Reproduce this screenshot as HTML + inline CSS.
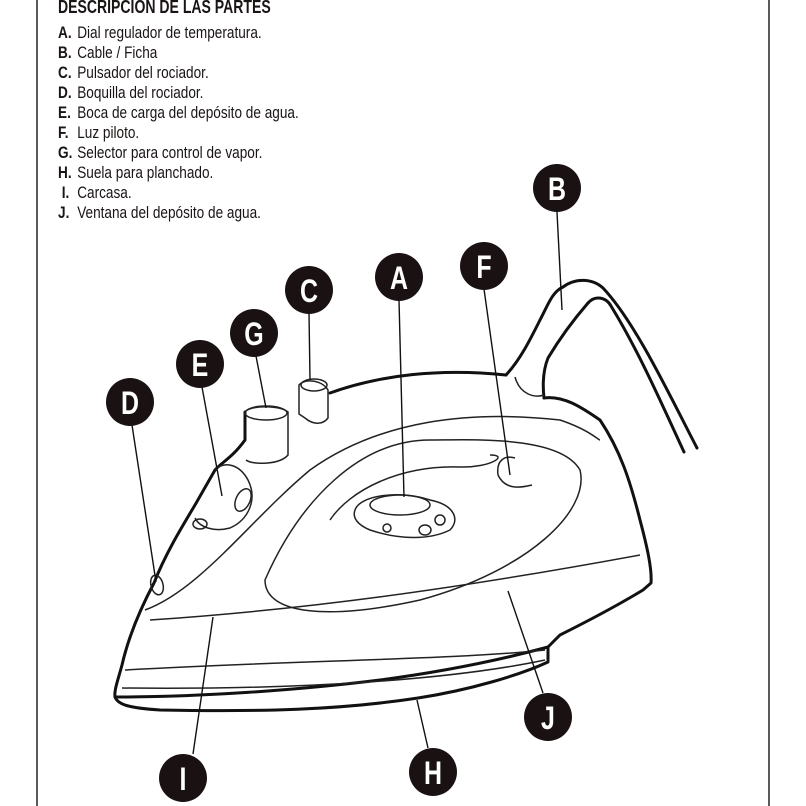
<!DOCTYPE html>
<html><head><meta charset="utf-8"><style>
html,body{margin:0;padding:0;background:#fff;}
body{width:806px;height:806px;position:relative;overflow:hidden;font-family:"Liberation Sans",sans-serif;}
.t{position:absolute;left:58px;top:-3px;font-weight:bold;font-size:18px;color:#1a1414;transform:scaleX(0.78);transform-origin:0 0;white-space:nowrap;}
.l{position:absolute;left:58px;font-size:17px;color:#1a1414;white-space:nowrap;transform:scaleX(0.8);transform-origin:0 0;}
.l b{display:inline-block;width:24px;}
</style></head><body>
<svg width="806" height="806" style="position:absolute;left:0;top:0">
<line x1="37" y1="0" x2="37" y2="806" stroke="#222" stroke-width="1.5"/>
<line x1="769" y1="0" x2="769" y2="806" stroke="#222" stroke-width="1.5"/>
<g fill="none" stroke="#111" stroke-width="3" stroke-linejoin="round" stroke-linecap="round">
<path d="M563,287 C575,278 592,278 603,288 C635,322 668,392 697,448"/>
<path d="M588,303 C595,295 606,297 611,306 C638,350 660,400 684,452"/>
<path d="M506,375 C520,360 530,340 540,320 C548,305 552,292 563,287"/>
<path d="M588,303 C575,318 560,338 548,358 C544,368 542,380 544,398"/>
<path d="M506,375 C440,368 380,375 330,393"/>
<path d="M544,398 C565,395 585,410 600,420 C620,450 630,480 640,520 C648,550 652,570 651,583 L643,590 C610,610 580,625 560,635 L548,647 C500,660 440,672 380,680 C300,690 200,697 115,697 C114,690 118,680 122,665 C130,630 145,600 154,583 C165,555 180,530 195,505 L215,470 C222,462 232,458 245,440 L245,412"/>
<path d="M115,697 C118,705 130,708 160,710 C260,712 340,710 418,698 C470,690 520,675 548,662 L548,647"/>
</g>
<g fill="none" stroke="#222" stroke-width="1.5">
<path d="M245,412 C250,405 280,405 288,412 L288,455 C280,465 252,465 246,460"/>
<ellipse cx="266" cy="413" rx="21" ry="7"/>
<path d="M299,385 C305,378 322,380 328,390 L328,418 C322,426 312,424 305,418 L299,414 Z"/>
<ellipse cx="314" cy="385" rx="13" ry="6"/>
<path d="M215,470 C225,460 240,465 248,480 C258,500 248,520 230,528 C215,532 200,528 195,518"/>
<ellipse cx="243" cy="500" rx="7" ry="12" transform="rotate(25 243 500)"/>
<ellipse cx="200" cy="524" rx="7" ry="5"/>
<ellipse cx="157" cy="585" rx="6" ry="10" transform="rotate(-15 157 585)"/>
<path d="M145,610 C200,590 250,520 310,470 C380,420 470,410 560,420 C590,430 598,440 600,440"/>
<path d="M265,580 C300,500 360,440 430,440 C470,440 560,435 580,470 C590,510 530,570 420,600 C330,620 265,615 265,580 Z"/>
<path d="M150,620 C300,610 450,590 640,555"/>
<path d="M125,670 C300,660 450,660 545,650"/>
<path d="M122,688 C300,690 450,680 545,660"/>
<path d="M330,520 C350,490 400,465 460,467 C490,468 510,455 490,455"/>
<path d="M498,475 C496,460 505,455 515,458"/>
<path d="M498,475 C505,490 520,488 532,485"/>
<path d="M355,510 C360,495 400,490 430,500 C455,505 460,520 450,530 C430,540 400,540 370,530 C358,525 352,518 355,510 Z"/>
<ellipse cx="400" cy="505" rx="30" ry="10"/>
<ellipse cx="425" cy="530" rx="6" ry="5"/><ellipse cx="440" cy="520" rx="5" ry="5"/><ellipse cx="387" cy="528" rx="4" ry="4"/>
<path d="M515,377 C520,395 535,398 544,395"/>
</g>
<g stroke="#111" stroke-width="1.4">
<line x1="557" y1="212" x2="562" y2="310"/>
<line x1="399" y1="300" x2="404" y2="497"/>
<line x1="484" y1="289" x2="510" y2="475"/>
<line x1="309" y1="313" x2="310" y2="380"/>
<line x1="256" y1="356" x2="266" y2="408"/>
<line x1="202" y1="387" x2="222" y2="496"/>
<line x1="132" y1="425" x2="156" y2="582"/>
<line x1="213" y1="617" x2="193" y2="754"/>
<line x1="417" y1="700" x2="428" y2="748"/>
<line x1="508" y1="591" x2="543" y2="693"/>
</g>
<g fill="#1a1212">
<circle cx="557" cy="188" r="24"/><circle cx="399" cy="277" r="24"/><circle cx="484" cy="266" r="24"/>
<circle cx="309" cy="290" r="24"/><circle cx="254" cy="333" r="24"/><circle cx="200" cy="364" r="24"/>
<circle cx="130" cy="402" r="24"/><circle cx="548" cy="717" r="24"/><circle cx="433" cy="772" r="24"/>
<circle cx="183" cy="778" r="24"/>
</g>
<g fill="#fff" font-family="Liberation Sans, sans-serif" font-weight="bold" font-size="32" text-anchor="middle">
<text transform="translate(557 200) scale(0.78 1)">B</text><text transform="translate(399 289) scale(0.78 1)">A</text><text transform="translate(484 278) scale(0.78 1)">F</text>
<text transform="translate(309 302) scale(0.78 1)">C</text><text transform="translate(254 345) scale(0.78 1)">G</text><text transform="translate(200 376) scale(0.78 1)">E</text>
<text transform="translate(130 414) scale(0.78 1)">D</text><text transform="translate(548 729) scale(0.78 1)">J</text><text transform="translate(433 784) scale(0.78 1)">H</text>
<text transform="translate(183 790) scale(0.78 1)">I</text>
</g>
</svg>
<div class="t">DESCRIPCION DE LAS PARTES</div>
<div class="l" style="top:23px"><b>A.</b>Dial regulador de temperatura.</div>
<div class="l" style="top:43px"><b>B.</b>Cable / Ficha</div>
<div class="l" style="top:63px"><b>C.</b>Pulsador del rociador.</div>
<div class="l" style="top:83px"><b>D.</b>Boquilla del rociador.</div>
<div class="l" style="top:103px"><b>E.</b>Boca de carga del depósito de agua.</div>
<div class="l" style="top:123px"><b>F.</b>Luz piloto.</div>
<div class="l" style="top:143px"><b>G.</b>Selector para control de vapor.</div>
<div class="l" style="top:163px"><b>H.</b>Suela para planchado.</div>
<div class="l" style="top:183px"><b>&nbsp;I.</b>Carcasa.</div>
<div class="l" style="top:203px"><b>J.</b>Ventana del depósito de agua.</div>
</body></html>
